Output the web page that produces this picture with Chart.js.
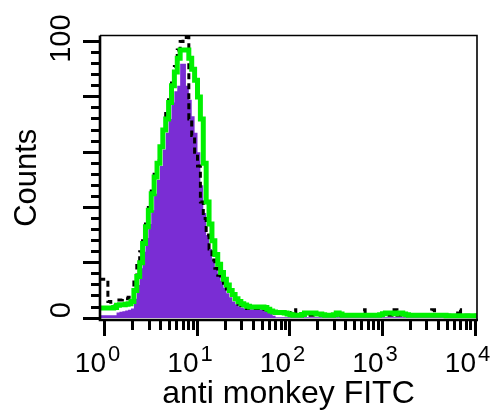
<!DOCTYPE html>
<html>
<head>
<meta charset="utf-8">
<script src="https://cdn.jsdelivr.net/npm/chart.js@4.4.0/dist/chart.umd.min.js"></script>
<style>
  html, body { margin: 0; padding: 0; background: #fff; }
  canvas { display: block; }
</style>
</head>
<body>
<canvas id="histo" width="500" height="415"></canvas>
<script>
// --- data: histogram bins, 32 per decade, first bin starts two bins below 10^0 ---
const binsPerDecade = 32;
const firstBin = -2;

const purpleCounts = [
  1, 1, 1, 1, 1, 1, 2, 2.3, 2.5, 2.7, 3, 3.5, 7, 12, 18, 24,
  29, 34, 39, 45, 50, 55, 61, 67, 72, 78, 82, 84, 92, 92, 84, 79,
  73, 67, 60, 48, 38, 30, 25, 21, 18.5, 16, 13.5, 11, 9, 7.5, 6, 5,
  4.3, 3.8, 3.5, 3.2, 3.2, 3.2, 3.2, 3.2, 3.2, 3, 2.6, 2, 0.8, 0.3, 0.3, 0.3,
  0.3, 0.3, 0.3, 0.3, 0.3, 0.3, 0.3, 0.3, 0.3, 0.3, 0.3, 0.3, 0.3, 0.3, 0.3, 0.3,
  0.3, 0.3, 0.3, 0.3, 0.3, 0.3, 0.3, 0.3, 0.3, 0.3, 0.3, 0.3, 0.3, 0.3, 0.3, 0.3,
  0.3, 0.3, 0.3, 0.3, 0.3, 0.3, 0.3, 0.3, 0.3, 0.3, 0.3, 0.3, 0.3, 0.3, 0.3, 0.3,
  0.3, 0.3, 0.3, 0.3, 0.3, 0.3, 0.3, 0.3, 0.3, 0.3, 0.3, 0.3, 0.3, 0.3, 0.3, 0.3,
  0.3, 0.3, 0.3
];

const blackCounts = [
  14, 14, 14, 6, 5, 4.5, 6.5, 6.5, 7, 7, 7.5, 8, 14, 19, 24, 29,
  34, 40, 46, 52, 57, 62, 68, 74, 79, 85, 91, 97, 100, 101.5, 101.5, 72,
  66, 60, 55, 42, 36, 30, 25, 21, 18, 15.5, 13.5, 12, 10.5, 9.5, 8.5, 7,
  5, 4.5, 4, 3.5, 3.5, 3.5, 3.5, 3.5, 3.5, 3.2, 2.8, 2.5, 2, 2, 2, 2,
  2, 2, 1.5, 3, 1, 1, 1, 1, 1, 1, 1, 1, 1, 1, 1, 1,
  1, 1, 1, 1, 1, 1, 1, 1, 1, 1, 1, 3, 1, 1, 1, 1,
  1, 1, 1, 1, 1, 1, 3, 1, 1, 1, 1, 1, 1, 1, 1, 1,
  1, 1, 1, 3, 1, 1, 1, 1, 1, 1, 1, 1, 3, 1, 1, 1,
  1, 1, 1
];

const greenCounts = [
  3.6, 3.6, 3.6, 3.6, 3.6, 3.8, 4.6, 4.8, 4.8, 5, 5.2, 6, 10, 15, 20, 27,
  33, 39, 45, 51, 56, 62, 68, 72, 78, 84, 89, 94, 97, 97, 97, 94,
  90, 86, 80, 72, 56, 42, 34, 28, 23, 19.5, 16.5, 14, 12, 10, 8.5, 7,
  6, 5.2, 4.7, 4.3, 4, 4, 4, 4, 4, 3.8, 3.2, 2.6, 2.2, 2, 2, 2,
  1.8, 1.5, 1.2, 1, 1, 1, 1.3, 1.8, 1.8, 1.8, 1.8, 1.5, 1.5, 1.2, 1, 1,
  1, 1.2, 1.8, 1.5, 1, 1, 1, 1, 1, 1, 1, 1, 1, 1, 1, 1,
  1, 1.2, 1.6, 1.8, 1.8, 1.8, 1.6, 1.8, 1.8, 1.5, 1.2, 1, 1, 1, 1, 1,
  1, 1, 1, 1, 1, 1, 1, 1, 0.8, 0.8, 0.8, 0.8, 0.8, 0.8, 0.8, 0.8,
  0.8, 0.8, 0.8
];

const xDecades = [0, 1, 2, 3, 4];
const xMinorMultipliers = [2, 3, 4, 5, 6, 7, 8, 9];
const yLabelValues = [0, 100];
const yMajorTicks = [0, 20, 40, 60, 80, 100];
const yMinorTicks = [0, 4, 8, 12, 16, 20, 24, 28, 32, 36, 40, 44, 48, 52, 56, 60, 64, 68, 72, 76, 80, 84, 88, 92, 96, 100];

const FONT = "'Liberation Sans', Arial, sans-serif";

// stepped 'before': each point is a bin's left edge, one closing point at the end
function toSteps(counts) {
    const pts = counts.map((c, i) => ({ x: Math.pow(10, (i + firstBin) / binsPerDecade), y: c }));
    pts.push({ x: Math.pow(10, (counts.length + firstBin) / binsPerDecade), y: counts[counts.length - 1] });
    return pts;
}

// snap a 3px line to the pixel grid so ticks stay crisp
const snap = (p) => Math.round(p - 0.5) + 0.5;

// frame, tick marks and tick labels drawn off the chart's own scales
const axesPlugin = {
    id: 'axesPlugin',
    afterDraw(chart) {
        const { ctx, chartArea: a, scales: { x, y } } = chart;
        ctx.save();
        ctx.strokeStyle = '#000';
        ctx.fillStyle = '#000';
        ctx.lineCap = 'butt';

        // top and right frame (thin)
        ctx.lineWidth = 1.6;
        ctx.beginPath();
        ctx.moveTo(a.left, a.top);
        ctx.lineTo(a.right, a.top);
        ctx.lineTo(a.right, a.bottom);
        ctx.stroke();

        // left and bottom axis
        ctx.lineWidth = 2.6;
        ctx.beginPath();
        ctx.moveTo(a.left, a.top);
        ctx.lineTo(a.left, a.bottom);
        ctx.lineTo(a.right + 1, a.bottom);
        ctx.stroke();

        // y ticks
        ctx.lineWidth = 3;
        ctx.beginPath();
        yMinorTicks.forEach(v => {
            const py = snap(y.getPixelForValue(v));
            ctx.moveTo(a.left - 9, py);
            ctx.lineTo(a.left, py);
        });
        yMajorTicks.forEach(v => {
            const py = snap(y.getPixelForValue(v));
            ctx.moveTo(a.left - 17, py);
            ctx.lineTo(a.left, py);
        });
        ctx.stroke();

        // x ticks
        ctx.beginPath();
        xDecades.forEach(d => {
            const px = snap(x.getPixelForValue(Math.pow(10, d)));
            ctx.moveTo(px, a.bottom);
            ctx.lineTo(px, a.bottom + 16);
            if (d < 4) {
                xMinorMultipliers.forEach(m => {
                    const pm = snap(x.getPixelForValue(m * Math.pow(10, d)));
                    ctx.moveTo(pm, a.bottom);
                    ctx.lineTo(pm, a.bottom + 10);
                });
            }
        });
        ctx.stroke();

        // x tick labels: 10 with superscript exponent
        ctx.textBaseline = 'alphabetic';
        xDecades.forEach(d => {
            const px = x.getPixelForValue(Math.pow(10, d));
            ctx.font = '28px ' + FONT;
            ctx.textAlign = 'right';
            ctx.fillText('10', px + 1, 372);
            ctx.font = '22px ' + FONT;
            ctx.textAlign = 'left';
            ctx.fillText(String(d), px + 3, 361);
        });

        // y tick labels, rotated
        ctx.font = '29px ' + FONT;
        ctx.textAlign = 'center';
        ctx.textBaseline = 'middle';
        yLabelValues.forEach(v => {
            const py = y.getPixelForValue(v) - (v === 0 ? 8 : 3);
            ctx.save();
            ctx.translate(62, py);
            ctx.rotate(-Math.PI / 2);
            ctx.fillText(String(v), 0, 0);
            ctx.restore();
        });

        ctx.restore();
    }
};

const ctx = document.getElementById('histo').getContext('2d');

new Chart(ctx, {
    type: 'line',
    data: {
        datasets: [
            {
                label: 'green',
                data: toSteps(greenCounts),
                stepped: 'before',
                borderColor: '#00f000',
                borderWidth: 5,
                pointRadius: 0,
                fill: false,
                order: 1
            },
            {
                label: 'black',
                data: toSteps(blackCounts),
                stepped: 'before',
                borderColor: '#000000',
                borderWidth: 3,
                borderDash: [6, 4],
                pointRadius: 0,
                fill: false,
                order: 2
            },
            {
                label: 'purple',
                data: toSteps(purpleCounts),
                stepped: 'before',
                borderColor: '#7a2dd4',
                backgroundColor: '#7a2dd4',
                borderWidth: 0,
                pointRadius: 0,
                fill: 'origin',
                order: 3
            }
        ]
    },
    options: {
        responsive: false,
        devicePixelRatio: 1,
        animation: false,
        layout: {
            padding: { top: 35.5, right: 23, left: 0, bottom: 0 }
        },
        plugins: {
            legend: { display: false },
            tooltip: { enabled: false }
        },
        scales: {
            x: {
                type: 'logarithmic',
                min: Math.pow(10, -0.054),
                max: Math.pow(10, 4.0216),
                grid: { display: false },
                border: { display: false },
                ticks: { display: false },
                title: {
                    display: true,
                    text: 'anti monkey FITC',
                    color: '#000',
                    font: { family: FONT, size: 32 },
                    padding: { top: 0, bottom: 2 }
                },
                afterFit: (scale) => { scale.height = 95; }
            },
            y: {
                type: 'linear',
                min: -0.7,
                max: 102.2,
                grid: { display: false },
                border: { display: false },
                ticks: { display: false },
                title: {
                    display: true,
                    text: 'Counts',
                    color: '#000',
                    font: { family: FONT, size: 31 },
                    padding: { top: 9, bottom: 0 }
                },
                afterFit: (scale) => { scale.width = 100; }
            }
        }
    },
    plugins: [axesPlugin]
});
</script>
</body>
</html>
